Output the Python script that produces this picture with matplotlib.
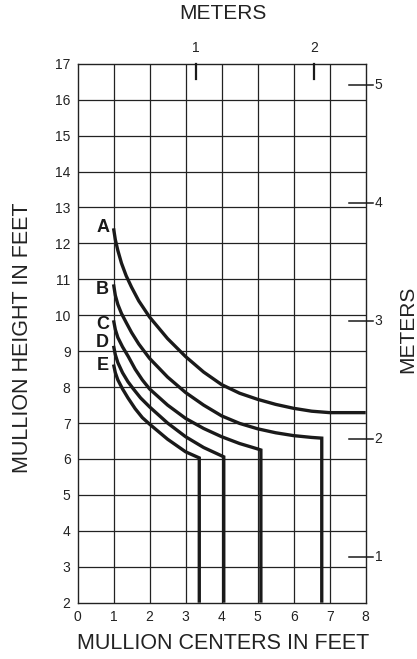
import matplotlib
matplotlib.use("Agg")
import matplotlib.pyplot as plt

plt.rcParams['font.family'] = ['Liberation Sans', 'DejaVu Sans']

# ---- data (feet) ----
curve_names = ["A", "B", "C", "D", "E"]

a_x = [1, 1.05, 1.12, 1.22, 1.35, 1.5, 1.7, 2.0, 2.5, 3.0, 3.5, 4.0, 4.5, 5.0, 5.5, 6.0, 6.5, 7.0, 8.0]
a_y = [12.42, 12.1, 11.8, 11.45, 11.1, 10.78, 10.4, 9.95, 9.35, 8.85, 8.42, 8.07, 7.83, 7.66, 7.52, 7.41, 7.33, 7.29, 7.29]

b_x = [1, 1.05, 1.12, 1.22, 1.35, 1.5, 1.7, 2.0, 2.5, 3.0, 3.5, 4.0, 4.5, 5.0, 5.5, 6.0, 6.5, 6.78, 6.78]
b_y = [10.86, 10.55, 10.3, 10.05, 9.8, 9.52, 9.2, 8.8, 8.28, 7.85, 7.5, 7.2, 6.99, 6.84, 6.73, 6.65, 6.6, 6.58, 2.0]

c_x = [1, 1.05, 1.12, 1.25, 1.41, 1.6, 1.8, 2.0, 2.5, 3.0, 3.5, 4.0, 4.5, 5.0, 5.09, 5.09]
c_y = [9.86, 9.6, 9.38, 9.12, 8.85, 8.5, 8.2, 7.95, 7.5, 7.13, 6.85, 6.62, 6.43, 6.28, 6.25, 2.0]

d_x = [1, 1.05, 1.12, 1.25, 1.4, 1.55, 1.75, 2.0, 2.5, 3.0, 3.5, 4.06, 4.06]
d_y = [9.15, 8.9, 8.68, 8.4, 8.15, 7.95, 7.7, 7.45, 7.0, 6.62, 6.32, 6.06, 2.0]

e_x = [1, 1.05, 1.12, 1.25, 1.4, 1.6, 1.8, 2.0, 2.5, 3.0, 3.38, 3.38]
e_y = [8.63, 8.4, 8.2, 7.95, 7.7, 7.4, 7.15, 6.97, 6.55, 6.2, 6.03, 2.0]

label_y = [12.45, 10.72, 9.75, 9.24, 8.61]

x_ticks = [0, 1, 2, 3, 4, 5, 6, 7, 8]
y_ticks = list(range(2, 18))
meter_ticks = [1, 2, 3, 4, 5]
ft_per_m = 3.2808

curves = [(a_x, a_y), (b_x, b_y), (c_x, c_y), (d_x, d_y), (e_x, e_y)]

fig = plt.figure(figsize=(4.17, 6.59), dpi=100)
ax = fig.add_axes([0.1859, 0.0854, 0.6911, 0.8179])
ax.set_xlim(0, 8)
ax.set_ylim(2, 17)

grid_c = '#222222'
for xv in x_ticks[1:-1]:
    ax.axvline(xv, color=grid_c, lw=0.9, zorder=1)
for yv in y_ticks[1:-1]:
    ax.axhline(yv, color=grid_c, lw=0.9, zorder=1)
for s in ax.spines.values():
    s.set_color(grid_c)
    s.set_linewidth(1.0)

ax.set_xticks(x_ticks)
ax.set_yticks(y_ticks)
ax.tick_params(length=0, labelsize=10, colors='#222222', pad=5)

for (cx, cy) in curves:
    ax.plot(cx, cy, color='#1a1a1a', lw=2.4, solid_joinstyle='miter',
            solid_capstyle='butt', zorder=3, clip_on=False)

for name, ly in zip(curve_names, label_y):
    ax.text(0.88, ly, name, ha='right', va='center', fontsize=13,
            fontweight='bold', color='#1a1a1a')

# meter scale: top
for m in meter_ticks[:2]:
    xf = m * ft_per_m
    ax.plot([xf, xf], [17, 16.58], color='#1a1a1a', lw=1.6, clip_on=False, zorder=4)
    ax.text(xf, 17.25, str(m), ha='center', va='bottom', fontsize=10, color='#222222')
# meter scale: right
for m in meter_ticks:
    yf = m * ft_per_m
    ax.plot([7.54, 8.2], [yf, yf], color='#1a1a1a', lw=1.1, clip_on=False, zorder=4)
    ax.text(8.25, yf, str(m), ha='left', va='center', fontsize=10, color='#222222')

fig.text(0.535, 0.979, "METERS", ha='center', va='center', fontsize=15, color='#222222')
fig.text(0.535, 0.024, "MULLION CENTERS IN FEET", ha='center', va='center', fontsize=15.5, color='#222222')
fig.text(0.053, 0.487, "MULLION HEIGHT IN FEET", ha='center', va='center', rotation=90,
         fontsize=15.5, color='#222222')
fig.text(0.978, 0.50, "METERS", ha='center', va='center', rotation=90, fontsize=15, color='#222222')

fig.savefig("out.png", dpi=100)
